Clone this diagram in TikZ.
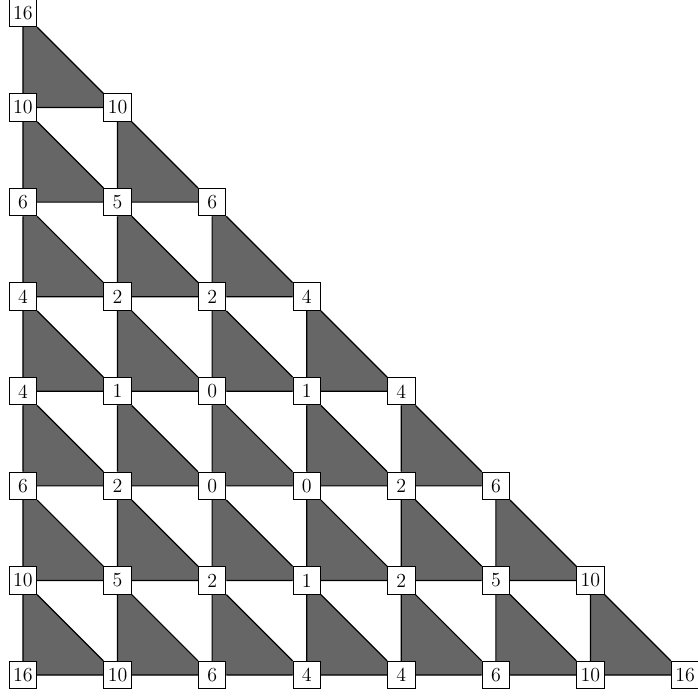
\documentclass[tikz,border=0pt]{standalone}
\usepackage{xcolor}
\usetikzlibrary{backgrounds}
\definecolor{Shade}{HTML}{666666}

\begin{document}
\begin{tikzpicture}[x=2cm,y=2cm,
  val/.style={draw,fill=white,font=\large,inner sep=2pt,minimum size=16.5pt,line width=.6pt},
  edge/.style={line width=.7pt}]
\useasboundingbox (-0.243,-0.222) rectangle (7.137,7.137);
% values, one row per level
\foreach \row [count=\j from 0] in {{16,10,6,4,4,6,10,16},{10,5,2,1,2,5,10},{6,2,0,0,2,6},{4,1,0,1,4},{4,2,2,4},{6,5,6},{10,10},{16}}{
  \foreach \v [count=\i from 0] in \row {\node[val] (n-\i-\j) at (\i,\j) {\v};}
}
% shaded lower triangles and grid lines
\begin{scope}[on background layer]
\foreach \j in {0,...,6}{
  \pgfmathtruncatemacro\m{6-\j}
  \foreach \i in {0,...,\m}{
    \pgfmathtruncatemacro\a{\i+1}\pgfmathtruncatemacro\b{\j+1}
    \fill[Shade] (n-\i-\j.center)--(n-\a-\j.center)--(n-\i-\b.center)--cycle;
    \draw[edge] (n-\i-\j)--(n-\a-\j) (n-\i-\j)--(n-\i-\b) (n-\i-\b)--(n-\a-\j);
  }
}
\end{scope}
\end{tikzpicture}
\end{document}
